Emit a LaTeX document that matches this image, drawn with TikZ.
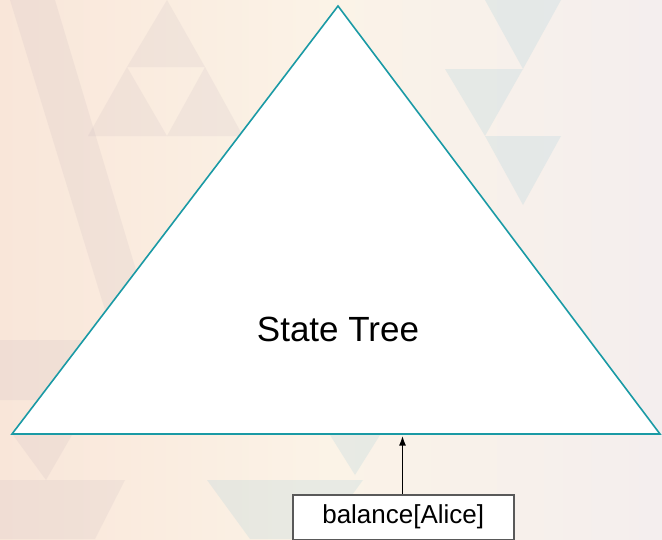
\documentclass[tikz,border=0pt]{standalone}
\usepackage{fontspec}
\setmainfont{Liberation Sans}
\usetikzlibrary{arrows.meta}
\definecolor{teal1}{HTML}{1A9AA5}
\definecolor{bgL}{HTML}{F9E6D9}
\definecolor{bgM}{HTML}{FBF3E7}
\definecolor{bgR}{HTML}{F4EEEE}
\definecolor{triG}{HTML}{B8A8B4}
\definecolor{triB}{HTML}{9CCAD8}
\tikzset{
  treetri/.style={draw=teal1, line width=1.6pt, fill=white, line join=miter},
  keybox/.style={draw=black!65, line width=1.5pt, fill=white, minimum width=221pt, minimum height=45pt, inner sep=0pt, font=\fontsize{26}{30}\selectfont},
  conn/.style={-{Latex[length=10pt,width=7pt]}, line width=1.8pt, black},
  bgtri/.style={fill=triG, opacity=0.13},
  bgtrib/.style={fill=triB, opacity=0.2}
}
\begin{document}
\begin{tikzpicture}[x=1pt,y=-1pt]
\useasboundingbox (0,0) rectangle (662,539);
% background
\shade[left color=bgL, right color=bgR, middle color=bgM] (0,0) rectangle (662,539);
\fill[bgtri] (167,0) -- (127,67) -- (205,67) -- cycle;
\fill[bgtri] (127,67) -- (88,136) -- (167,136) -- cycle;
\fill[bgtri] (205,67) -- (167,136) -- (243,136) -- cycle;
\fill[bgtri] (10,0) -- (55,0) -- (148,310) -- (105,310) -- cycle;
\fill[bgtri] (0,340) -- (125,340) -- (150,400) -- (0,400) -- cycle;
\fill[bgtrib] (485,0) -- (561,0) -- (523,69) -- cycle;
\fill[bgtrib] (445,69) -- (523,69) -- (485,136) -- cycle;
\fill[bgtrib] (485,136) -- (561,136) -- (523,205) -- cycle;
\fill[bgtrib] (207,480) -- (363,480) -- (320,539) -- (250,539) -- cycle;
\fill[bgtri] (13,435) -- (72,435) -- (46,480) -- cycle;
\fill[bgtri] (0,480) -- (125,480) -- (95,539) -- (0,539) -- cycle;
\fill[bgtrib] (330,435) -- (380,435) -- (355,475) -- cycle;
% state tree
\draw[treetri] (338,6) coordinate (apex) -- (660,434) coordinate (br) -- (12,434) coordinate (bl) -- cycle;
\node (tree) at (338,329) {\fontsize{35}{40}\selectfont State Tree};
\coordinate (hit) at (402.5,435.5);
\node[keybox, anchor=north west] (key) at (292,494) {balance[Alice]};
\draw[conn] (key.north -| hit) -- (hit);
\end{tikzpicture}
\end{document}
